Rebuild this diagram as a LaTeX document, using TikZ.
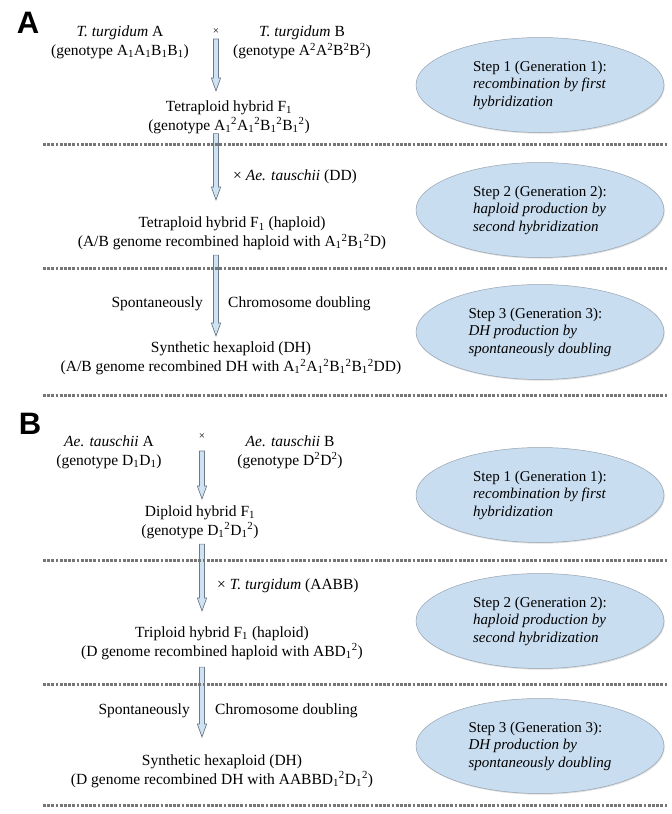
\documentclass[tikz,border=0pt]{standalone}
\usepackage{fontspec}
\setmainfont{Liberation Serif}
\newfontfamily\panelfont{Liberation Sans}
\usetikzlibrary{shapes.geometric,calc,shadows}

\definecolor{stepfill}{RGB}{201,221,240}
\definecolor{stepline}{RGB}{150,162,175}
\definecolor{arrowfill}{RGB}{205,226,242}
\definecolor{arrowline}{RGB}{110,122,135}
\definecolor{dotgray}{RGB}{118,118,118}

\tikzset{
  growth/.style={draw=arrowline,fill=arrowfill,line width=0.7pt,
    to path={let \p1=(\tikztostart), \p2=(\tikztotarget) in
      (\x1-2.5pt,\y1) -- (\x1+2.5pt,\y1) -- (\x1+2.5pt,\y2+13pt)
      -- (\x1+4.7pt,\y2+13pt) -- (\x1,\y2) -- (\x1-4.7pt,\y2+13pt)
      -- (\x1-2.5pt,\y2+13pt) -- cycle}},
  stepbox/.style={ellipse,draw=stepline,line width=0.5pt,fill=stepfill,
    minimum width=248pt,minimum height=95pt,align=left,inner sep=0pt,
    font=\fontsize{15}{17.5}\selectfont,
    drop shadow={shadow xshift=0.8pt,shadow yshift=-1.2pt,opacity=0.25}},
  sepline/.style={draw=dotgray,line width=3pt,dash pattern=on 2.8pt off 1.4pt}
}

\begin{document}
\begin{tikzpicture}[x=10pt,y=-10pt,
    geno/.style={align=center,inner sep=0pt,font=\fontsize{15.5}{18.7}\selectfont},
    note/.style={inner sep=0pt,font=\fontsize{15.5}{18.7}\selectfont},
    cross/.style={inner sep=0pt,font=\fontsize{11}{11}\selectfont},
    panel/.style={inner sep=0pt,font=\panelfont\bfseries\fontsize{31}{31}\selectfont}]

    \useasboundingbox (0,0) rectangle (67.2,81.4);

    % Panel A: crosses on the left
    \node[panel] (labA) at (2.8,2.3) {A};
    \node[geno] (tA) at (12.0,4.25)
      {\textit{T. turgidum} A\\(genotype A\textsubscript{1}A\textsubscript{1}B\textsubscript{1}B\textsubscript{1})};
    \node[cross] (xA) at (21.6,3.2) {×};
    \node[geno] (tB) at (30.2,4.25)
      {\textit{T. turgidum} B\\(genotype A\textsuperscript{2}A\textsuperscript{2}B\textsuperscript{2}B\textsuperscript{2})};
    \node[geno] (f1A) at (22.9,11.7)
      {Tetraploid hybrid F\textsubscript{1}\\(genotype A\textsubscript{1}\textsuperscript{2}A\textsubscript{1}\textsuperscript{2}B\textsubscript{1}\textsuperscript{2}B\textsubscript{1}\textsuperscript{2})};
    \node[note,anchor=west] (dA) at (23.3,17.7) {× \textit{Ae. tauschii} (DD)};
    \node[geno] (hapA) at (23.2,23.35)
      {Tetraploid hybrid F\textsubscript{1} (haploid)\\(A/B genome recombined haploid with A\textsubscript{1}\textsuperscript{2}B\textsubscript{1}\textsuperscript{2}D)};
    \node[note,anchor=east] (spA) at (20.3,30.4) {Spontaneously};
    \node[note,anchor=west] (cdA) at (22.8,30.4) {Chromosome doubling};
    \node[geno] (dhA) at (23.1,35.85)
      {Synthetic hexaploid (DH)\\(A/B genome recombined DH with A\textsubscript{1}\textsuperscript{2}A\textsubscript{1}\textsuperscript{2}B\textsubscript{1}\textsuperscript{2}B\textsubscript{1}\textsuperscript{2}DD)};

    % Panel A: steps
    \node[stepbox] (s1A) at (54,8.5)
      {Step 1 (Generation 1):\\\textit{recombination by first}\\\textit{hybridization}};
    \node[stepbox] (s2A) at (54,21.0)
      {Step 2 (Generation 2):\\\textit{haploid production by}\\\textit{second hybridization}};
    \node[stepbox] (s3A) at (54,33.2)
      {Step 3 (Generation 3):\\\textit{DH production by}\\\textit{spontaneously doubling}};

    % Panel A: arrows
    \draw[growth] ($(xA)+(0,0.7)$) to ($(xA |- f1A.north)+(0,-0.95)$);
    \draw[growth] (xA |- f1A.south) to ($(xA |- hapA.north)+(0,-1.7)$);
    \draw[growth] ($(xA |- hapA.south)+(0,0.5)$) to ($(xA |- dhA.north)+(0,-0.6)$);

    % Panel B: crosses on the left
    \node[panel] (labB) at (3.0,42.4) {B};
    \node[geno] (aeA) at (10.9,45.2)
      {\textit{Ae. tauschii} A\\(genotype D\textsubscript{1}D\textsubscript{1})};
    \node[cross] (xB) at (20.2,43.7) {×};
    \node[geno] (aeB) at (29.0,45.2)
      {\textit{Ae. tauschii} B\\(genotype D\textsuperscript{2}D\textsuperscript{2})};
    \node[geno] (f1B) at (20.0,52.2)
      {Diploid hybrid F\textsubscript{1}\\(genotype D\textsubscript{1}\textsuperscript{2}D\textsubscript{1}\textsuperscript{2})};
    \node[note,anchor=west] (dB) at (21.7,58.6) {× \textit{T. turgidum} (AABB)};
    \node[geno] (hapB) at (22.2,64.3)
      {Triploid hybrid F\textsubscript{1} (haploid)\\(D genome recombined haploid with ABD\textsubscript{1}\textsuperscript{2})};
    \node[note,anchor=east] (spB) at (19.0,71.1) {Spontaneously};
    \node[note,anchor=west] (cdB) at (21.5,71.1) {Chromosome doubling};
    \node[geno] (dhB) at (22.2,77.1)
      {Synthetic hexaploid (DH)\\(D genome recombined DH with AABBD\textsubscript{1}\textsuperscript{2}D\textsubscript{1}\textsuperscript{2})};

    % Panel B: steps
    \node[stepbox] (s1B) at (54,49.5)
      {Step 1 (Generation 1):\\\textit{recombination by first}\\\textit{hybridization}};
    \node[stepbox] (s2B) at (54,62.1)
      {Step 2 (Generation 2):\\\textit{haploid production by}\\\textit{second hybridization}};
    \node[stepbox] (s3B) at (54,74.6)
      {Step 3 (Generation 3):\\\textit{DH production by}\\\textit{spontaneously doubling}};

    % Panel B: arrows
    \draw[growth] ($(xB)+(0,1.4)$) to ($(xB |- f1B.north)+(0,-0.65)$);
    \draw[growth] ($(xB |- f1B.south)+(0,0.55)$) to ($(xB |- hapB.north)+(0,-1.55)$);
    \draw[growth] ($(xB |- hapB.south)+(0,0.75)$) to ($(xB |- dhB.north)+(0,-1.75)$);

    % Generation separators
    \foreach \yy in {14.4,26.8,39.5,56.0,68.4,80.5}
      \draw[sepline] (4.3,\yy) -- (66.8,\yy);

  \end{tikzpicture}
\end{document}
